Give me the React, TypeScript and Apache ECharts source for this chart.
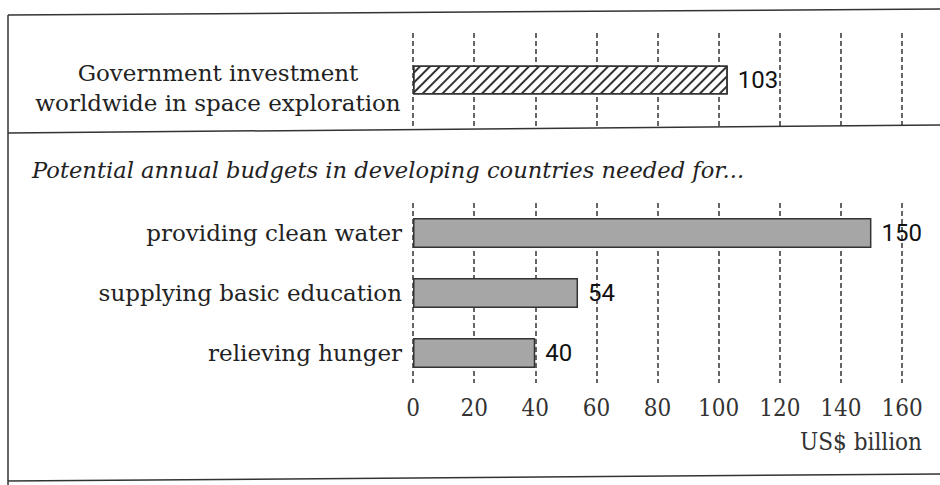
import React, { useEffect, useRef } from "react";
import * as echarts from "echarts";

const topCategories = ["Government investment\nworldwide in space exploration"];
const topValues = [103];
const bottomCategories = ["providing clean water", "supplying basic education", "relieving hunger"];
const bottomValues = [150, 54, 40];
const axisMin = 0;
const axisMax = 160;
const axisInterval = 20;
const subtitle = "Potential annual budgets in developing countries needed for...";
const unitLabel = "US$ billion";

const SERIF = "'DejaVu Serif', serif";
const SERIF_C = "'DejaVu Serif Condensed', 'DejaVu Serif', serif";
const SANS = "Roboto, 'Liberation Sans', sans-serif";

export default function App() {
  const ref = useRef<HTMLDivElement>(null);
  useEffect(() => {
    if (!ref.current) return;
    const chart = echarts.init(ref.current, null, { renderer: "svg" });
    const splitLine = { show: true, lineStyle: { type: [5, 3], color: "#333", width: 1.5 } };
    const labelStyle = { show: true, position: "right", distance: 10, color: "#111", fontFamily: SANS, fontSize: 24 };
    chart.setOption({
      animation: false,
      backgroundColor: "#fff",
      grid: [
        { left: 413, right: 38, top: 33, height: 94 },
        { left: 413, right: 38, top: 203, height: 180 },
      ],
      xAxis: [
        {
          gridIndex: 0, type: "value", min: axisMin, max: axisMax, interval: axisInterval,
          axisLine: { show: false }, axisTick: { show: false }, axisLabel: { show: false }, splitLine,
        },
        {
          gridIndex: 1, type: "value", min: axisMin, max: axisMax, interval: axisInterval,
          axisLine: { show: false }, axisTick: { show: false }, splitLine,
          axisLabel: { show: true, margin: 13, color: "#333", fontFamily: SERIF_C, fontSize: 24 },
        },
      ],
      yAxis: [
        {
          gridIndex: 0, type: "category", data: topCategories, inverse: true,
          axisLine: { show: false }, axisTick: { show: false }, axisLabel: { show: false },
        },
        {
          gridIndex: 1, type: "category", data: bottomCategories, inverse: true,
          axisLine: { show: false }, axisTick: { show: false },
          axisLabel: { show: true, margin: 11, color: "#222", fontFamily: SERIF, fontSize: 23 },
        },
      ],
      series: [
        {
          type: "bar", xAxisIndex: 0, yAxisIndex: 0, data: topValues, barWidth: 29,
          itemStyle: {
            color: "#fff", borderColor: "#333", borderWidth: 1.5,
            decal: { symbol: "rect", symbolSize: 1, dashArrayX: [[1, 0]], dashArrayY: [1.2, 4.5], rotation: -Math.PI / 4, color: "#333" },
          },
          label: labelStyle,
        },
        {
          type: "bar", xAxisIndex: 1, yAxisIndex: 1, data: bottomValues, barWidth: 30,
          itemStyle: { color: "#a6a6a6", borderColor: "#333", borderWidth: 1.5 },
          label: labelStyle,
        },
      ],
      graphic: [
        { type: "line", shape: { x1: 8, y1: 15, x2: 940, y2: 9 }, style: { stroke: "#333", lineWidth: 1.5 } },
        { type: "line", shape: { x1: 8, y1: 133, x2: 940, y2: 125 }, style: { stroke: "#333", lineWidth: 1.5 } },
        { type: "line", shape: { x1: 8, y1: 481, x2: 940, y2: 474 }, style: { stroke: "#333", lineWidth: 1.5 } },
        { type: "line", shape: { x1: 8, y1: 15, x2: 8, y2: 485 }, style: { stroke: "#333", lineWidth: 1.5 } },
        {
          type: "text", x: 218, y: 58,
          style: { text: topCategories[0], textAlign: "center", textVerticalAlign: "top", fontFamily: SERIF, fontSize: 23, lineHeight: 30, fill: "#222" },
        },
        { type: "text", left: 32, top: 158, style: { text: subtitle, fontFamily: SERIF, fontStyle: "italic", fontSize: 22.6, fill: "#222" } },
        { type: "text", right: 18, top: 430, style: { text: unitLabel, fontFamily: SERIF_C, fontSize: 24, fill: "#333" } },
      ],
    });
    return () => chart.dispose();
  }, []);
  return <div ref={ref} style={{ width: 940, height: 485, position: "absolute", left: 0, top: 0 }} />;
}
